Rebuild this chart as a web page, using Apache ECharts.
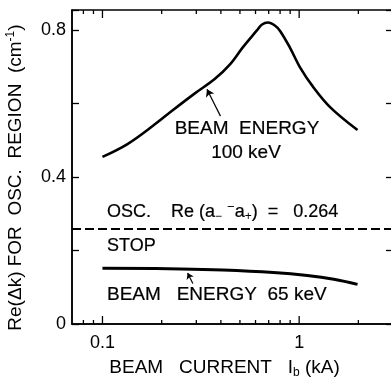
<!DOCTYPE html>
<html><head><meta charset="utf-8">
<script src="https://cdn.jsdelivr.net/npm/echarts@6/dist/echarts.min.js"></script>
<style>html,body{margin:0;padding:0;background:#fff}#c{width:391px;height:379px}</style>
</head><body><div id="c"></div>
<script>
// ---- data ----
const energy100X = [0.1, 0.134, 0.184, 0.225, 0.295, 0.372, 0.445, 0.518, 0.611, 0.645, 0.695, 0.755, 0.80, 0.899, 1.01, 1.18, 1.44, 1.98];
const energy100Y = [0.455, 0.490, 0.543, 0.580, 0.628, 0.667, 0.707, 0.754, 0.800, 0.815, 0.821, 0.812, 0.798, 0.752, 0.699, 0.645, 0.590, 0.528];
const energy65X = [0.1, 0.25, 0.41, 0.74, 1.1, 1.5, 1.98];
const energy65Y = [0.152, 0.150, 0.147, 0.140, 0.132, 0.122, 0.108];
const oscStop = 0.26;
const arrow100 = [[0.398, 0.566], [0.340, 0.639]];
const arrow65 = [[0.288, 0.110], [0.271, 0.139]];
const xMin = 0.07, xMax = 3;
const yMin = 0, yMax = 0.855;
const xMajorTicks = [0.1, 1];
const xMinorTicks = [0.08, 0.09, 0.2, 0.3, 0.4, 0.5, 0.6, 0.7, 0.8, 0.9, 2, 3];
const xTickLabels = ['0.1', '1'];
const yTickValues = [0, 0.2, 0.4, 0.6, 0.8];
const yTickLabels = ['0', '', '0.4', '', '0.8'];

const FONT = '"Liberation Sans", Arial, Helvetica, sans-serif';
const pairs = (xs, ys) => xs.map((x, i) => [x, ys[i]]);
const tickData = xMajorTicks.map(v => [v, yMin, 1]).concat(xMinorTicks.map(v => [v, yMin, 0]));

const chart = echarts.init(document.getElementById('c'), null, {renderer: 'canvas'});
const yAxisBase = {
  type: 'value', min: yMin, max: yMax, interval: 0.2,
  axisLine: {show: true, lineStyle: {color: '#000', width: 1.5}},
  axisTick: {show: true, inside: true, length: 7, lineStyle: {color: '#000', width: 1.3}},
  splitLine: {show: false}
};
const SW = 0.2;
const txt = (x, y, text, size, align) => ({type: 'text', x: x, y: y, silent: true,
  style: {text: text, fontFamily: FONT, fontSize: size, fill: '#000', stroke: '#000', lineWidth: SW,
          align: align, verticalAlign: 'middle'}});
chart.setOption({
  animation: false,
  backgroundColor: '#fff',
  grid: {left: 72, top: 10, width: 321, bottom: 55, containLabel: false, outerBoundsMode: 'none',
         show: true, borderColor: '#000', borderWidth: 1.5, backgroundColor: 'transparent'},
  xAxis: {
    type: 'log', logBase: 10, min: xMin, max: xMax,
    axisLine: {show: true, lineStyle: {color: '#000', width: 1.5}},
    axisTick: {show: false}, splitLine: {show: false}, minorTick: {show: false},
    axisLabel: {
      color: '#000', fontFamily: FONT, fontSize: 18, margin: 10,
      showMinLabel: false, showMaxLabel: false,
      formatter: v => { const i = xMajorTicks.findIndex(t => Math.abs(v - t) / t < 1e-6); return i >= 0 ? xTickLabels[i] : ''; }
    },
    name: '{n|BEAM   CURRENT   I}{s|b}{n| (kA)   }', nameLocation: 'middle', nameGap: 33,
    nameTextStyle: {color: '#000', fontFamily: FONT, fontSize: 19,
      rich: {n: {fontFamily: FONT, fontSize: 19, color: '#000', lineHeight: 22},
             s: {fontFamily: FONT, fontSize: 12, color: '#000', verticalAlign: 'bottom', lineHeight: 12}}}
  },
  yAxis: [
    Object.assign({}, yAxisBase, {
      position: 'left',
      axisLabel: {color: '#000', fontFamily: FONT, fontSize: 18, margin: 6,
        formatter: v => { const i = yTickValues.findIndex(t => Math.abs(v - t) < 1e-9); return i >= 0 ? yTickLabels[i] : ''; }},
      name: '{n|Re(Δk) FOR  OSC.  REGION  (cm}{p|-1}{n|)    }', nameLocation: 'middle', nameRotate: 90, nameGap: 45,
      nameTextStyle: {color: '#000', fontFamily: FONT, fontSize: 19,
        rich: {n: {fontFamily: FONT, fontSize: 19, color: '#000', lineHeight: 22},
               p: {fontFamily: FONT, fontSize: 12, color: '#000', verticalAlign: 'top', lineHeight: 12}}}
    }),
    Object.assign({}, yAxisBase, {position: 'right', axisLabel: {show: false}})
  ],
  series: [
    {
      name: 'Beam energy 100 keV', type: 'line', data: pairs(energy100X, energy100Y),
      smooth: 0.35, showSymbol: false, symbol: 'none', silent: true,
      lineStyle: {color: '#000', width: 2.6},
      markLine: {silent: true, animation: false, symbol: ['none', 'arrow'], symbolSize: 7,
        label: {show: false}, lineStyle: {color: '#000', width: 1.2, type: 'solid'},
        data: [[{coord: arrow100[0]}, {coord: arrow100[1]}]]}
    },
    {
      name: 'Beam energy 65 keV', type: 'line', data: pairs(energy65X, energy65Y),
      smooth: 0.4, showSymbol: false, symbol: 'none', silent: true,
      lineStyle: {color: '#000', width: 3},
      markLine: {silent: true, animation: false, symbol: ['none', 'arrow'], symbolSize: 6,
        label: {show: false}, lineStyle: {color: '#000', width: 1.2, type: 'solid'},
        data: [[{coord: arrow65[0]}, {coord: arrow65[1]}]]}
    },
    {
      name: 'Osc. stop', type: 'line', data: [], silent: true,
      markLine: {silent: true, animation: false, symbol: ['none', 'none'],
        label: {show: false}, lineStyle: {color: '#000', width: 2, type: [9, 4]},
        data: [{yAxis: oscStop}]}
    },
    {
      name: 'x ticks', type: 'custom', data: tickData, silent: true, clip: false,
      encode: {x: 0, y: 1},
      renderItem: (params, api) => {
        const x = api.value(0), major = api.value(2);
        const len = major ? 8 : 4;
        const b = api.coord([x, yMin]);
        const t = api.coord([x, yMax]);
        const st = {stroke: '#000', lineWidth: 1.3};
        return {type: 'group', children: [
          {type: 'line', shape: {x1: b[0], y1: b[1], x2: b[0], y2: b[1] - len}, style: st},
          {type: 'line', shape: {x1: t[0], y1: t[1], x2: t[0], y2: t[1] + len}, style: st}
        ]};
      }
    }
  ],
  graphic: [
    txt(247, 129, 'BEAM  ENERGY', 19, 'center'),
    txt(246, 153, '100 keV', 19, 'center'),
    {type: 'text', x: 107, y: 212, silent: true, style: {
      text: '{n|OSC.    Re (a}{s|−}{n| }{p|−}{n|a}{s|+}{n|)  =   0.264}',
      fontFamily: FONT, fontSize: 18, fill: '#000', align: 'left', verticalAlign: 'middle',
      rich: {n: {fontFamily: FONT, fontSize: 18, fill: '#000', stroke: '#000', lineWidth: SW, lineHeight: 22},
             s: {fontFamily: FONT, fontSize: 12, fill: '#000', verticalAlign: 'bottom', lineHeight: 12},
             p: {fontFamily: FONT, fontSize: 13, fill: '#000', verticalAlign: 'top', lineHeight: 16}}}},
    txt(107, 246, 'STOP', 18, 'left'),
    txt(107, 295, 'BEAM   ENERGY  65 keV', 19, 'left')
  ]
});
</script></body></html>
